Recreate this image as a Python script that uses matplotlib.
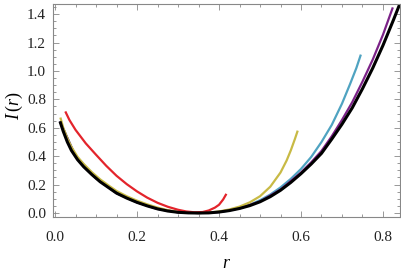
import matplotlib
matplotlib.use("Agg")
import matplotlib.pyplot as plt
from matplotlib.ticker import MultipleLocator

# ---- data ----
black_r = [0.012, 0.02, 0.03, 0.04, 0.055, 0.07, 0.09, 0.11, 0.13, 0.15, 0.175, 0.2, 0.225,
           0.25, 0.275, 0.3, 0.325, 0.35, 0.375, 0.4, 0.425, 0.45, 0.475, 0.5, 0.525, 0.55,
           0.575, 0.6, 0.625, 0.65, 0.675, 0.7, 0.725, 0.75, 0.775, 0.8, 0.825, 0.845]
black_I = [0.645, 0.575, 0.50, 0.44, 0.375, 0.325, 0.27, 0.22, 0.18, 0.14, 0.105, 0.075, 0.05,
           0.029, 0.014, 0.005, 0.001, 0.0, 0.001, 0.007, 0.017, 0.032, 0.052, 0.079, 0.115, 0.16,
           0.215, 0.277, 0.345, 0.42, 0.52, 0.625, 0.74, 0.875, 1.02, 1.18, 1.355, 1.50]

yellow_r = [0.013, 0.02, 0.03, 0.04, 0.055, 0.07, 0.09, 0.11, 0.13, 0.15, 0.175, 0.2, 0.225,
            0.25, 0.275, 0.3, 0.325, 0.35, 0.375, 0.4, 0.425, 0.45, 0.475, 0.5, 0.525, 0.55,
            0.565, 0.575, 0.585, 0.592]
yellow_I = [0.672, 0.60, 0.525, 0.465, 0.395, 0.345, 0.287, 0.237, 0.195, 0.155, 0.118, 0.087,
            0.061, 0.038, 0.02, 0.008, 0.002, 0.0, 0.003, 0.011, 0.025, 0.045, 0.075, 0.118,
            0.185, 0.285, 0.37, 0.44, 0.52, 0.58]

red_r = [0.025, 0.035, 0.05, 0.075, 0.1, 0.125, 0.15, 0.175, 0.2, 0.225, 0.25, 0.275, 0.3,
         0.32, 0.34, 0.36, 0.375, 0.39, 0.4, 0.41, 0.418]
red_I = [0.715, 0.655, 0.585, 0.49, 0.41, 0.332, 0.262, 0.203, 0.152, 0.108, 0.072, 0.044, 0.023,
         0.011, 0.005, 0.007, 0.018, 0.038, 0.058, 0.095, 0.135]

blue_r = [0.012, 0.05, 0.1, 0.15, 0.2, 0.25, 0.3, 0.35, 0.4, 0.42, 0.45, 0.475, 0.5, 0.525,
          0.55, 0.575, 0.6, 0.625, 0.65, 0.675, 0.7, 0.72, 0.735, 0.746]
blue_I = [0.645, 0.40, 0.245, 0.14, 0.075, 0.029, 0.005, 0.0, 0.007, 0.015, 0.035, 0.058, 0.09,
          0.13, 0.18, 0.24, 0.31, 0.395, 0.5, 0.62, 0.77, 0.91, 1.02, 1.115]

purple_r = [0.012, 0.05, 0.1, 0.15, 0.2, 0.25, 0.3, 0.35, 0.4, 0.45, 0.5, 0.55, 0.6, 0.625,
            0.65, 0.675, 0.7, 0.725, 0.75, 0.775, 0.8, 0.824]
purple_I = [0.645, 0.40, 0.245, 0.14, 0.075, 0.029, 0.005, 0.0, 0.007, 0.033, 0.081, 0.165,
            0.285, 0.357, 0.437, 0.54, 0.655, 0.78, 0.925, 1.08, 1.255, 1.447]

x_ticks = [0.0, 0.2, 0.4, 0.6, 0.8]
y_ticks = [0.0, 0.2, 0.4, 0.6, 0.8, 1.0, 1.2, 1.4]

plt.rcParams['font.family'] = ['Liberation Serif', 'DejaVu Serif']
plt.rcParams['mathtext.fontset'] = 'custom'
plt.rcParams['mathtext.it'] = 'Liberation Serif:italic'
plt.rcParams['mathtext.rm'] = 'Liberation Serif'

fig = plt.figure(figsize=(4.02, 2.76), dpi=100)
ax = fig.add_axes([53 / 402, 1 - 217 / 276, 347 / 402, 213 / 276])

ax.plot(blue_r, blue_I, color='#4FA3C1', lw=1.6, solid_capstyle='butt')
ax.plot(purple_r, purple_I, color='#7B2287', lw=1.6, solid_capstyle='butt')
ax.plot(yellow_r, yellow_I, color='#C8BA45', lw=1.6, solid_capstyle='butt')
ax.plot(red_r, red_I, color='#E3242B', lw=1.6, solid_capstyle='butt')
ax.plot(black_r, black_I, color='black', lw=2.2, solid_capstyle='butt')

ax.set_xlim(-0.005, 0.8415)
ax.set_ylim(-0.028, 1.471)
ax.set_xticks(x_ticks)
ax.set_yticks(y_ticks)
ax.set_xticklabels([f"{v:.1f}" for v in x_ticks])
ax.set_yticklabels([f"{v:.1f}" for v in y_ticks])
ax.xaxis.set_minor_locator(MultipleLocator(0.05))
ax.yaxis.set_minor_locator(MultipleLocator(0.05))

frame_col = '#888888'
for s in ax.spines.values():
    s.set_color(frame_col)
    s.set_linewidth(0.8)
ax.tick_params(which='both', direction='in', top=True, right=True, color=frame_col,
               width=0.6, labelsize=11, labelcolor='#222222')
ax.tick_params(axis='x', which='major', length=4, pad=10)
ax.tick_params(axis='y', which='major', length=4, pad=5)
ax.tick_params(which='minor', length=2)

ax.set_xlabel(r'$r$', fontsize=13, labelpad=8)
ax.set_ylabel(r'$I\,(r)$', fontsize=13)
ax.yaxis.set_label_coords(-0.08, 0.52)

fig.savefig('out.png', dpi=100)
